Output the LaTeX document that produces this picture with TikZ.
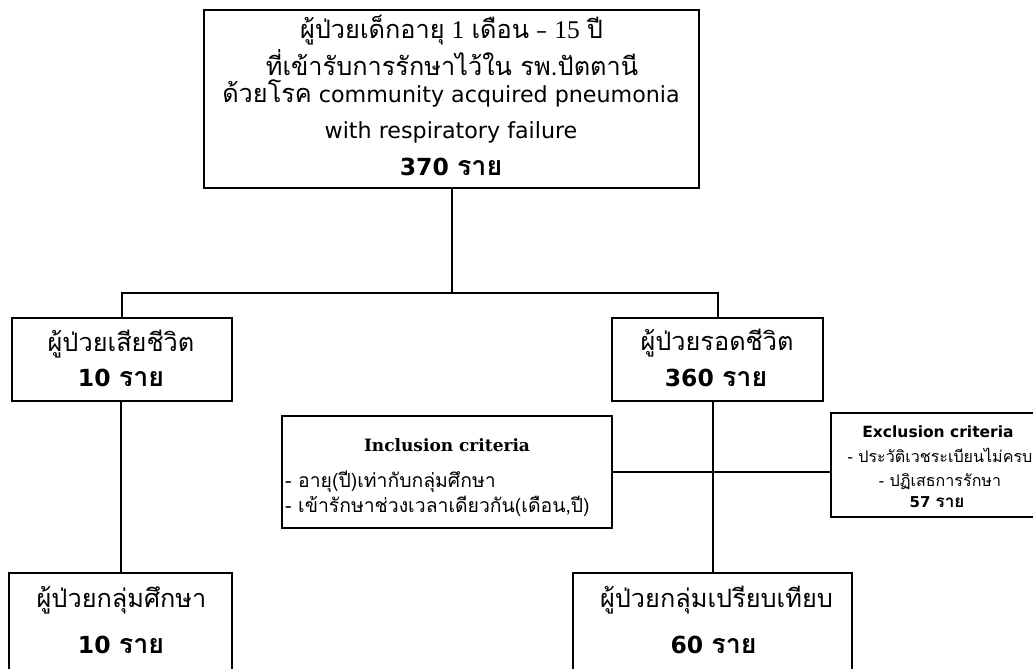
\documentclass[tikz,border=0pt]{standalone}
\usepackage{fontspec}
\setmainfont{DejaVu Sans}
\newfontfamily\thai[Script=Thai, Scale=1.14]{Loma}
\newfontfamily\serifb{DejaVu Serif}
\newfontfamily\tnr[Scale=1.15]{Liberation Serif}
\tikzset{
  box/.style={draw, line width=2pt, inner sep=0pt},
  conn/.style={line width=2pt},
  txt/.style={inner sep=0pt, anchor=base},
  big/.style={font=\fontsize{22.2}{27}\selectfont},
  bignum/.style={font=\fontsize{23.5}{27}\selectfont\bfseries},
  incitem/.style={font=\fontsize{17}{20}\selectfont},
  excitem/.style={font=\fontsize{14.1}{17}\selectfont},
}
\begin{document}
\begin{tikzpicture}[x=1pt,y=-1pt]
\useasboundingbox (0,0) rectangle (1033,669);
\clip (0,0) rectangle (1033,669);
\fill[white] (0,0) rectangle (1033,669);
% boxes
\node[box, minimum width=495pt, minimum height=178pt] (top) at (451.5,99) {};
\node[box, minimum width=220pt, minimum height=83pt] (dead) at (122,359.5) {};
\node[box, minimum width=211pt, minimum height=83pt] (surv) at (717.5,359.5) {};
\node[box, minimum width=330pt, minimum height=112pt] (incl) at (447,472) {};
\node[box, minimum width=219pt, minimum height=104pt] (excl) at (940.5,465) {};
\node[box, minimum width=223pt, minimum height=127pt] (study) at (120.5,636.5) {};
\node[box, minimum width=279pt, minimum height=127pt] (cmp) at (712.5,636.5) {};
% connectors
\coordinate (split) at (451.5,293);
\draw[conn] (top.south) -- (split);
\draw[conn] (dead.north) |- (split) -| (surv.north);
\draw[conn] (study.north) -- (study.north |- dead.south);
\draw[conn] (cmp.north) -- (cmp.north |- surv.south);
\draw[conn] (incl.east) -- (incl.east -| excl.west);
% top box text
\node[txt, big] (t1) at (451.5,39) {{\thai ผู้ป่วยเด็กอายุ} {\tnr 1} {\thai เดือน} – {\tnr 15} {\thai ปี}};
\node[txt, big] (t2) at (452,76) {\thai ที่เข้ารับการรักษาไว้ใน รพ.ปัตตานี};
\node[txt, big] (t3) at (451,102) {{\thai ด้วยโรค} community acquired pneumonia};
\node[txt, big] (t4) at (451,138) {with respiratory failure};
\node[txt, bignum] (t5) at (451,175) {370 {\thai ราย}};
% dead
\node[txt, big] (d1) at (121,351) {\thai ผู้ป่วยเสียชีวิต};
\node[txt, bignum] (d2) at (121,386) {10 {\thai ราย}};
% survive
\node[txt, big] (s1) at (717,350) {\thai ผู้ป่วยรอดชีวิต};
\node[txt, bignum] (s2) at (716,386) {360 {\thai ราย}};
% study
\node[txt, big] (st1) at (121.5,607) {\thai ผู้ป่วยกลุ่มศึกษา};
\node[txt, bignum] (st2) at (121,653) {10 {\thai ราย}};
% compare
\node[txt, big] (c1) at (716.5,607) {\thai ผู้ป่วยกลุ่มเปรียบเทียบ};
\node[txt, bignum] (c2) at (713.5,653) {60 {\thai ราย}};
% inclusion
\node[txt, font=\fontsize{17}{20}\selectfont\serifb\bfseries] (i0) at (447,451) {Inclusion criteria};
\node[txt, incitem, anchor=base west] (i1) at (285,487) {\thai - อายุ(ปี)เท่ากับกลุ่มศึกษา};
\node[txt, incitem, anchor=base west] (i2) at (285,512) {\thai - เข้ารักษาช่วงเวลาเดียวกัน(เดือน,ปี)};
% exclusion
\node[txt, font=\fontsize{15.5}{18}\selectfont\bfseries] (e0) at (938,437) {Exclusion criteria};
\node[txt, excitem] (e1) at (940,462) {\thai - ประวัติเวชระเบียนไม่ครบ};
\node[txt, excitem] (e2) at (940,486) {\thai - ปฏิเสธการรักษา};
\node[txt, font=\fontsize{15}{18}\selectfont\bfseries] (e3) at (937,507) {57 {\thai ราย}};
\end{tikzpicture}
\end{document}
